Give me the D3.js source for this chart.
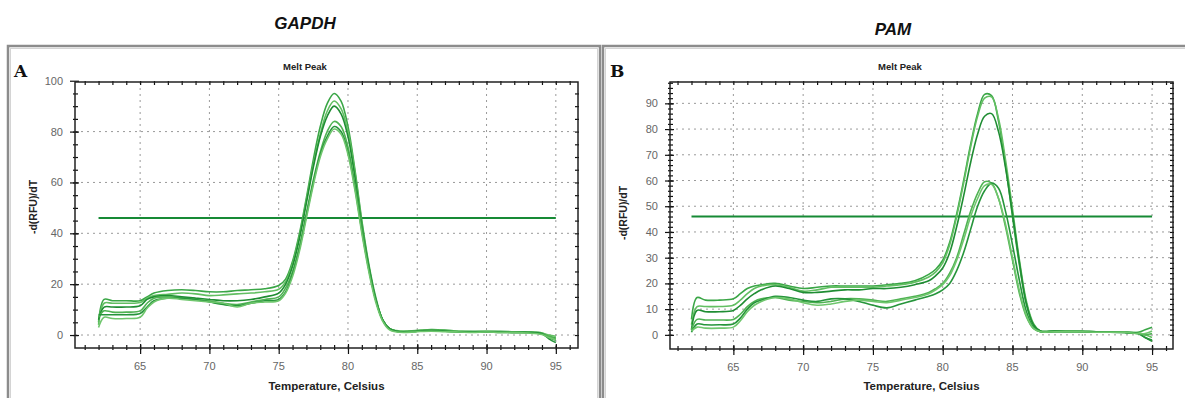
<!DOCTYPE html>
<html>
<head>
<meta charset="utf-8">
<script src="https://cdn.jsdelivr.net/npm/d3@7"></script>
<style>
  body { margin: 0; background: #fff; }
  svg { display: block; font-family: "Liberation Sans", Arial, sans-serif; }
  .tick-label { fill: #666; font-size: 11px; }
  .grid { stroke: #9a9a9a; stroke-width: 1; stroke-dasharray: 2,4; }
</style>
</head>
<body>
<svg id="chart" width="1185" height="398"></svg>
<script>
// temperature grid (Celsius) for each panel
const tempsA = [62, 62.4, 63, 64, 65, 65.5, 66, 67, 68, 69, 70, 71, 72, 73, 74, 75, 75.5, 76, 76.5, 77, 77.5, 78, 78.5, 79, 79.5, 80, 80.5, 81, 81.5, 82, 82.5, 83, 83.5, 84, 85, 86, 87, 88, 89, 90, 91, 92, 93, 94, 94.5, 95];
const tempsB = [62, 62.4, 63, 64, 65, 65.5, 66, 66.5, 67, 68, 69, 70, 71, 72, 73, 74, 75, 76, 77, 78, 79, 79.5, 80, 80.5, 81, 81.5, 82, 82.5, 83, 83.5, 84, 84.5, 85, 85.5, 86, 86.5, 87, 88, 89, 90, 91, 92, 93, 94, 94.5, 95];

// GAPDH melt peaks, -d(RFU)/dT
const gapdh1 = [5, 14, 13.5, 13.5, 13.5, 15, 16.5, 17.5, 17.8, 17.5, 17, 17, 17.5, 17.8, 18.2, 19.5, 22, 29, 40, 54, 69, 82, 91, 95, 92, 82, 65, 45, 28, 15, 6, 2.5, 1.5, 1.5, 1.8, 2.2, 2, 1.5, 1.5, 1.5, 1.5, 1.3, 1.2, 0.8, -0.5, -1];
const gapdh2 = [4, 12.5, 12.5, 12.5, 12.8, 14.5, 15.5, 16, 16.5, 16.2, 15.5, 15.8, 16.2, 16.5, 17, 18, 21, 28, 39, 53, 67, 79, 88, 92, 89, 80, 64, 44, 27, 14, 6, 2.5, 1.8, 1.5, 1.8, 2, 1.8, 1.5, 1.3, 1.5, 1.3, 1.2, 1.2, 0.8, 0, -0.5];
const gapdh3 = [6, 11, 11, 11, 11.5, 14, 15, 15.5, 15, 14.5, 14, 13.5, 13.5, 14, 15, 16.5, 20, 27, 38, 52, 66, 78, 86, 90, 87, 78, 62, 43, 27, 14, 6, 2.5, 1.5, 1.2, 1.5, 1.8, 1.5, 1.2, 1.2, 1.2, 1, 1, 1, 0.5, -1, -2];
const gapdh4 = [7, 9.5, 9, 9, 9.5, 12.5, 14.5, 15, 14.5, 14, 13.5, 12.5, 12, 13, 14, 15, 18.5, 25, 35, 48, 61, 72, 80, 84, 82, 74, 59, 42, 26, 14, 6, 2.5, 1.5, 1.2, 1.5, 1.8, 1.5, 1.3, 1.2, 1.2, 1.2, 1, 1, 0.5, -0.5, -1.5];
const gapdh5 = [8, 8, 8, 8, 8.5, 11, 13.5, 14.5, 14.5, 14, 13, 12, 11.5, 12.5, 13.5, 14, 17, 24, 34, 47, 60, 71, 78, 82, 80, 72, 58, 41, 26, 14, 6, 2.5, 1.5, 1.2, 1.5, 1.8, 1.5, 1.3, 1.2, 1.2, 1.2, 1, 1, 0.5, -1.5, -3];
const gapdh6 = [3, 7, 6.5, 6.5, 7, 10.5, 13, 14.5, 14, 13.5, 13, 12.5, 11, 12.5, 13, 13.5, 16.5, 23, 33, 46, 59, 70, 77, 81, 79, 71, 57, 40, 25, 13, 5.5, 2, 1.2, 1, 1.3, 1.5, 1.3, 1.2, 1, 1.2, 1, 1, 0.8, 0.2, -1, -2];

// PAM melt peaks
const pam1 = [6, 14.5, 13.5, 13.5, 14, 16, 18, 19, 19.5, 20, 19, 18, 18.5, 19, 19, 19, 19, 19.5, 20, 21, 23.5, 25.5, 29, 36, 47, 60, 74, 86, 93.5, 93, 83, 66, 46, 27, 12, 4, 1.5, 1.5, 1.5, 1.5, 1.2, 1.2, 1, 1, 2, 3];
const pam2 = [4, 11, 11, 11, 11.5, 13.5, 16, 18, 19, 19.5, 18.5, 17, 17.5, 18.5, 18.5, 18.5, 18.5, 19, 19.5, 20.5, 22.5, 24.5, 28, 35, 46, 59, 73, 85, 92, 92.5, 84, 68, 49, 29, 13, 4.5, 1.5, 1.5, 1.5, 1.3, 1.2, 1.2, 1, 0.8, 0, -1];
const pam3 = [2, 9.5, 9, 9, 9.5, 11.5, 14, 16, 17.5, 19, 18, 16.5, 16.5, 17, 17.5, 17.5, 18, 18, 18.5, 19.5, 21, 23, 26, 32, 42, 54, 67, 78, 85, 86, 79, 65, 47, 28, 12, 4, 1.5, 1.5, 1.3, 1.3, 1.2, 1, 1, 0.5, -1, -2.5];
const pam4 = [2, 6, 5.8, 5.8, 6, 8, 11, 13, 14, 14.5, 13.5, 13, 12.5, 13, 14, 14, 13.5, 13, 14, 15, 16.5, 18, 20, 24, 30, 39, 48, 55, 59.5, 59, 53, 42, 29, 16, 7, 2.5, 1.2, 1.2, 1.2, 1.2, 1, 1, 1, 0.5, 0, 0.5];
const pam5 = [1, 4.2, 3.9, 3.9, 4.2, 6.5, 10, 12.5, 13.5, 15, 14.5, 13.5, 13, 14, 14, 13, 11.5, 10.5, 12, 13.5, 15, 16, 17.5, 20, 25, 32, 41, 50, 56, 59, 57, 48, 35, 21, 9, 3, 1.2, 1.2, 1.2, 1.2, 1, 1, 0.8, 0.5, -1, -2];
const pam6 = [1.5, 3, 2.6, 2.6, 3, 5.5, 9, 11.5, 13, 14.5, 14, 12.5, 11.5, 12, 13, 13.5, 13, 12.5, 13.5, 14.5, 16, 17.5, 19.5, 23, 29, 37, 46, 53, 58, 58.5, 53, 43, 30, 17, 7.5, 2.5, 1.2, 1.2, 1.2, 1.2, 1, 1, 1, 0.5, 0.5, 1.5];

const xTicks = [65, 70, 75, 80, 85, 90, 95];
const yTicksA = [0, 20, 40, 60, 80, 100];
const yTicksB = [0, 10, 20, 30, 40, 50, 60, 70, 80, 90];
const threshold = 46;

const curveColors = ["#3aa646", "#62bf62", "#1f8d33", "#50b353", "#26953b", "#6fc66d"];

const svg = d3.select("#chart");

function drawPanel(p) {
  // outer frame (double grey edge)
  svg.append("rect")
    .attr("x", p.frame[0]).attr("y", p.frame[1])
    .attr("width", p.frame[2]).attr("height", p.frame[3])
    .attr("fill", "none").attr("stroke", "#8c8c8c").attr("stroke-width", 2.5);
  svg.append("rect")
    .attr("x", p.frame[0] + 2.5).attr("y", p.frame[1] + 2.5)
    .attr("width", p.frame[2] - 5).attr("height", p.frame[3])
    .attr("fill", "none").attr("stroke", "#d4d4d4").attr("stroke-width", 1);

  svg.append("text")
    .attr("x", p.titleX).attr("y", p.titleY)
    .attr("text-anchor", "middle")
    .attr("font-size", 17).attr("font-weight", "bold").attr("font-style", "italic")
    .attr("fill", "#111")
    .text(p.title);

  svg.append("text")
    .attr("x", p.letterX).attr("y", 77)
    .attr("font-family", "'DejaVu Serif', serif")
    .attr("font-size", 17).attr("font-weight", "bold")
    .attr("fill", "#111")
    .text(p.letter);

  const x = d3.scaleLinear().domain(p.xDomain).range([p.left, p.right]);
  const y = d3.scaleLinear().domain(p.yDomain).range([p.bottom, p.top]);

  const g = svg.append("g");

  // grid
  g.selectAll(".gx").data(xTicks).join("line")
    .attr("class", "grid")
    .attr("x1", d => x(d)).attr("x2", d => x(d))
    .attr("y1", p.top).attr("y2", p.bottom);
  g.selectAll(".gy").data(p.yTicks.filter(d => y(d) > p.top + 2)).join("line")
    .attr("class", "grid")
    .attr("x1", p.left).attr("x2", p.right)
    .attr("y1", d => y(d)).attr("y2", d => y(d));

  // axes: ticks on all four sides
  const minorX = d3.range(61, 97, 1);
  const minorY = d3.range(0, p.yDomain[1], p.minorStep);
  g.append("g").attr("transform", `translate(0,${p.bottom - 3})`)
    .call(d3.axisBottom(x).tickValues(minorX).tickSize(5).tickSizeOuter(0).tickFormat(""))
    .call(a => a.select(".domain").remove());
  g.append("g").attr("transform", `translate(0,${p.bottom - 4})`)
    .call(d3.axisBottom(x).tickValues(xTicks).tickSize(10).tickSizeOuter(0).tickFormat(""))
    .call(a => a.select(".domain").remove());
  g.append("g").attr("transform", `translate(0,${p.top - 1})`)
    .call(d3.axisBottom(x).tickValues(minorX).tickSize(4).tickSizeOuter(0).tickFormat(""))
    .call(a => a.select(".domain").remove());
  g.append("g").attr("transform", `translate(${p.left - 2},0)`)
    .call(d3.axisRight(y).tickValues(minorY).tickSize(5).tickSizeOuter(0).tickFormat(""))
    .call(a => a.select(".domain").remove());
  g.append("g").attr("transform", `translate(${p.left - 5},0)`)
    .call(d3.axisRight(y).tickValues(p.yTicks).tickSize(9).tickSizeOuter(0).tickFormat(""))
    .call(a => a.select(".domain").remove());
  g.append("g").attr("transform", `translate(${p.right + 1},0)`)
    .call(d3.axisLeft(y).tickValues(minorY).tickSize(4).tickSizeOuter(0).tickFormat(""))
    .call(a => a.select(".domain").remove());
  g.selectAll(".tick line").attr("stroke", "#111").attr("stroke-width", 1.2);

  // tick labels
  g.selectAll(".xl").data(xTicks).join("text")
    .attr("class", "tick-label")
    .attr("x", d => x(d)).attr("y", p.bottom + 22)
    .attr("text-anchor", "middle").text(d => d);
  g.selectAll(".yl").data(p.yTicks).join("text")
    .attr("class", "tick-label")
    .attr("x", p.left - 12).attr("y", d => y(d) + 4)
    .attr("text-anchor", "end").text(d => d);

  // threshold line
  g.append("line")
    .attr("x1", x(62)).attr("x2", x(95))
    .attr("y1", y(threshold)).attr("y2", y(threshold))
    .attr("stroke", "#168a35").attr("stroke-width", 2);

  // curves
  const line = d3.line()
    .x((d, i) => x(p.temps[i]))
    .y(d => y(d))
    .curve(d3.curveCatmullRom.alpha(0.5));
  g.selectAll(".curve").data(p.series).join("path")
    .attr("fill", "none")
    .attr("stroke", (d, i) => curveColors[i % curveColors.length])
    .attr("stroke-width", 1.6)
    .attr("d", line);

  // plot border
  g.append("rect")
    .attr("x", p.left).attr("y", p.top)
    .attr("width", p.right - p.left).attr("height", p.bottom - p.top)
    .attr("fill", "none").attr("stroke", "#222").attr("stroke-width", 1.5);

  // labels
  svg.append("text")
    .attr("x", p.meltX).attr("y", 70)
    .attr("text-anchor", "middle")
    .attr("font-size", 9.5).attr("font-weight", "bold").attr("fill", "#222")
    .text("Melt Peak");
  svg.append("text")
    .attr("x", (p.left + p.right) / 2).attr("y", 390)
    .attr("text-anchor", "middle")
    .attr("font-size", 11.5).attr("font-weight", "bold").attr("fill", "#222")
    .text("Temperature, Celsius");
  svg.append("text")
    .attr("transform", `translate(${p.yLabelX},${p.yLabelY}) rotate(-90)`)
    .attr("text-anchor", "middle")
    .attr("font-size", 10.5).attr("font-weight", "bold").attr("fill", "#222")
    .text("-d(RFU)/dT");
}

drawPanel({
  title: "GAPDH", titleX: 305, titleY: 29, letter: "A", letterX: 14,
  frame: [8, 46, 592, 360],
  left: 75, right: 578, top: 82, bottom: 348,
  xDomain: [60.3, 96.6], yDomain: [-5.1, 99.5],
  yTicks: yTicksA, minorStep: 5,
  temps: tempsA, series: [gapdh1, gapdh2, gapdh3, gapdh4, gapdh5, gapdh6],
  meltX: 305, yLabelX: 37, yLabelY: 207
});

drawPanel({
  title: "PAM", titleX: 893, titleY: 35, letter: "B", letterX: 610,
  frame: [603, 46, 590, 360],
  left: 670, right: 1173, top: 82, bottom: 349,
  xDomain: [60.46, 96.5], yDomain: [-5.5, 98.3],
  yTicks: yTicksB, minorStep: 2,
  temps: tempsB, series: [pam1, pam2, pam3, pam4, pam5, pam6],
  meltX: 900, yLabelX: 627, yLabelY: 213
});
</script>
</body>
</html>
